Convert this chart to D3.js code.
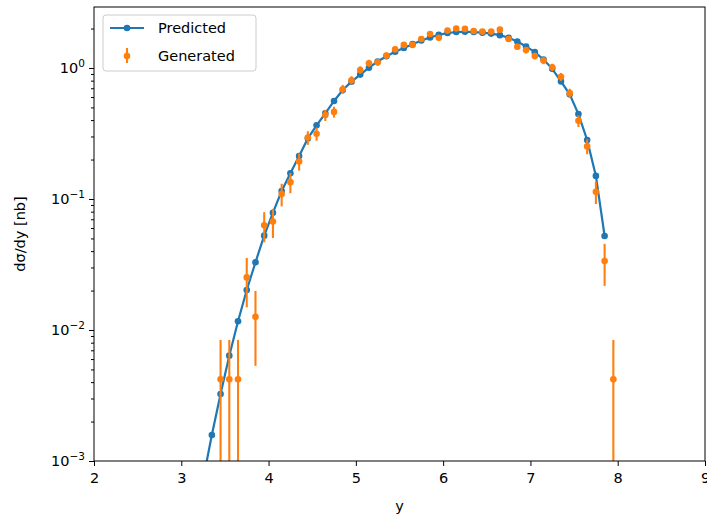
<!DOCTYPE html>
<html>
<head>
<meta charset="utf-8">
<script src="https://cdn.jsdelivr.net/npm/d3@7"></script>
<style>
  body { margin: 0; background: #fff; }
  text { font-family: "DejaVu Sans", sans-serif; fill: #000; }
</style>
</head>
<body>
<svg id="chart" width="707" height="514"></svg>
<script>
// bin centres (rapidity y) and the two series
const predY = [3.25, 3.35, 3.45, 3.55, 3.65, 3.75, 3.85, 3.95, 4.05, 4.15, 4.25, 4.35, 4.45, 4.55, 4.65,
  4.75, 4.85, 4.95, 5.05, 5.15, 5.25, 5.35, 5.45, 5.55, 5.65, 5.75, 5.85, 5.95, 6.05, 6.15, 6.25,
  6.35, 6.45, 6.55, 6.65, 6.75, 6.85, 6.95, 7.05, 7.15, 7.25, 7.35, 7.45, 7.55, 7.65, 7.75, 7.85];
const predicted = [0.00072, 0.00158, 0.00325, 0.00637, 0.01165, 0.0202, 0.0329, 0.0525, 0.0786, 0.115,
  0.157, 0.213, 0.29, 0.365, 0.451, 0.56, 0.679, 0.786, 0.89, 1.005, 1.12, 1.23, 1.33, 1.42, 1.52,
  1.62, 1.71, 1.79, 1.85, 1.88, 1.89, 1.88, 1.86, 1.83, 1.78, 1.70, 1.59, 1.46, 1.32, 1.16, 0.985,
  0.79, 0.63, 0.445, 0.282, 0.150, 0.0522];

// generated events per bin, each carrying the same weight
const genY = [3.45, 3.55, 3.65, 3.75, 3.85, 3.95, 4.05, 4.15, 4.25, 4.35, 4.45, 4.55, 4.65, 4.75, 4.85,
  4.95, 5.05, 5.15, 5.25, 5.35, 5.45, 5.55, 5.65, 5.75, 5.85, 5.95, 6.05, 6.15, 6.25, 6.35, 6.45,
  6.55, 6.65, 6.75, 6.85, 6.95, 7.05, 7.15, 7.25, 7.35, 7.45, 7.55, 7.65, 7.75, 7.85, 7.95];
const genCounts = [1, 1, 1, 6, 3, 15, 16, 26, 32, 46, 70, 75, 104, 110, 164,
  192, 230, 259, 263, 296, 331, 357, 357, 396, 433, 405, 459, 477, 473, 456, 451,
  451, 467, 396, 346, 326, 294, 271, 241, 204, 153, 94, 60, 27, 8, 1];
const eventWeight = 0.0042;

const xTicks = [2, 3, 4, 5, 6, 7, 8, 9];
const yTicks = [1e-3, 1e-2, 1e-1, 1];

const BLUE = '#1f77b4', ORANGE = '#ff7f0e';
const margin = {left: 94, top: 7, right: 2, bottom: 53};
const svg = d3.select('#chart');
const W = +svg.attr('width'), H = +svg.attr('height');
const iw = W - margin.left - margin.right, ih = H - margin.top - margin.bottom;

const x = d3.scaleLinear().domain([2, 9]).range([0, iw]);
const y = d3.scaleLog().domain([1e-3, 2.92]).range([ih, 0]);

const g = svg.append('g').attr('transform', `translate(${margin.left},${margin.top})`);

g.append('clipPath').attr('id', 'clip')
  .append('rect').attr('width', iw).attr('height', ih);

const plot = g.append('g').attr('clip-path', 'url(#clip)');

// predicted curve
const pred = predY.map((d, i) => ({x: d, v: predicted[i]}));
plot.append('path')
  .datum(pred)
  .attr('fill', 'none')
  .attr('stroke', BLUE)
  .attr('stroke-width', 2.2)
  .attr('d', d3.line().x(d => x(d.x)).y(d => y(d.v)));
plot.selectAll('.pdot').data(pred).join('circle')
  .attr('class', 'pdot')
  .attr('cx', d => x(d.x)).attr('cy', d => y(d.v)).attr('r', 3.3)
  .attr('fill', BLUE);

// generated points with poisson errors
const gen = genY.map((d, i) => ({
  x: d,
  v: genCounts[i] * eventWeight,
  e: Math.sqrt(genCounts[i]) * eventWeight
}));
plot.selectAll('.ebar').data(gen).join('line')
  .attr('class', 'ebar')
  .attr('x1', d => x(d.x)).attr('x2', d => x(d.x))
  .attr('y1', d => y(d.v + d.e))
  .attr('y2', d => (d.v - d.e) > 1e-6 ? y(d.v - d.e) : ih + 10)
  .attr('stroke', ORANGE).attr('stroke-width', 2.1);
plot.selectAll('.gdot').data(gen).join('circle')
  .attr('class', 'gdot')
  .attr('cx', d => x(d.x)).attr('cy', d => y(d.v)).attr('r', 3.3)
  .attr('fill', ORANGE);

// axes
const xAxis = g.append('g').attr('transform', `translate(0,${ih})`)
  .call(d3.axisBottom(x).tickValues(xTicks).tickFormat(d3.format('d')).tickSize(5).tickPadding(7));
const minor = [];
for (let k = -3; k <= 0; k++) for (let m = 2; m <= 9; m++) {
  const v = m * Math.pow(10, k);
  if (v < 2.92) minor.push(v);
}
g.append('g')
  .call(d3.axisLeft(y).tickValues(yTicks).tickFormat('').tickSize(5));
g.append('g')
  .call(d3.axisLeft(y).tickValues(minor).tickFormat('').tickSize(3));

g.selectAll('.domain').remove();
g.selectAll('.tick line').attr('stroke', '#000').attr('stroke-width', 1);
xAxis.selectAll('text').style('font-size', '14.5px').attr('fill', '#000');

// y tick labels like 10^-1
yTicks.forEach(v => {
  const p = Math.round(Math.log10(v));
  const t = g.append('text')
    .attr('x', -9).attr('y', y(v) + 5)
    .attr('text-anchor', 'end')
    .style('font-size', '14.5px');
  t.append('tspan').text('10');
  t.append('tspan').attr('dy', -6).style('font-size', '10.5px')
    .text(p < 0 ? '\u2212' + (-p) : String(p));
});

// frame
g.append('rect').attr('width', iw).attr('height', ih)
  .attr('fill', 'none').attr('stroke', '#000').attr('stroke-width', 1);

// labels
svg.append('text').attr('x', margin.left + iw / 2).attr('y', 511)
  .attr('text-anchor', 'middle').style('font-size', '14.5px').text('y');
svg.append('text')
  .attr('transform', `translate(25,${margin.top + ih / 2}) rotate(-90)`)
  .attr('text-anchor', 'middle').style('font-size', '14.5px').text('d\u03c3/dy [nb]');

// legend
const lg = svg.append('g').attr('transform', 'translate(103,15)');
lg.append('rect').attr('width', 153).attr('height', 56).attr('rx', 3)
  .attr('fill', '#fff').attr('fill-opacity', 0.8).attr('stroke', '#cccccc');
lg.append('line').attr('x1', 7).attr('x2', 41).attr('y1', 13).attr('y2', 13)
  .attr('stroke', BLUE).attr('stroke-width', 2.2);
lg.append('circle').attr('cx', 24).attr('cy', 13).attr('r', 3.3).attr('fill', BLUE);
lg.append('text').attr('x', 55).attr('y', 18).style('font-size', '14.5px').text('Predicted');
lg.append('line').attr('x1', 24).attr('x2', 24).attr('y1', 33).attr('y2', 48)
  .attr('stroke', ORANGE).attr('stroke-width', 2.1);
lg.append('circle').attr('cx', 24).attr('cy', 41).attr('r', 3.3).attr('fill', ORANGE);
lg.append('text').attr('x', 55).attr('y', 46).style('font-size', '14.5px').text('Generated');
</script>
</body>
</html>
